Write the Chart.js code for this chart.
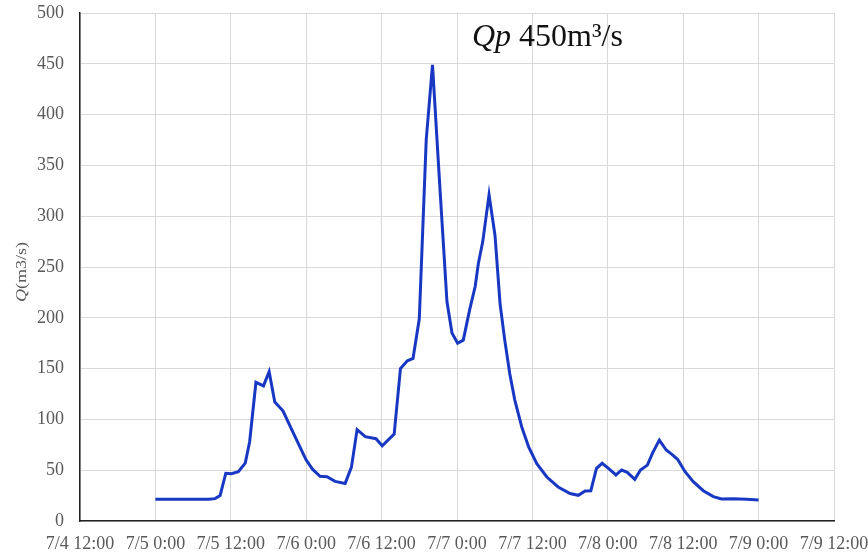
<!DOCTYPE html>
<html>
<head>
<meta charset="utf-8">
<script src="https://cdn.jsdelivr.net/npm/chart.js@4"></script>
<style>
  html, body { margin: 0; padding: 0; background: #ffffff; }
  #wrap { width: 868px; height: 552px; position: relative; }
</style>
</head>
<body>
<div id="wrap"><canvas id="c" width="868" height="552"></canvas></div>
<script>
// Hours elapsed since 7/4 12:00
const hours = [
  12, 20.5, 21.5, 22.3, 23.2, 24.1, 25.2, 26.3, 27, 28,
  29.2, 30.1, 31, 32.3, 34, 35, 36, 37, 38.2, 39.3,
  40.6, 42.2, 43.2, 44.1, 45.4, 47.1, 48.1, 50, 51, 52.1,
  53, 54, 55.1, 56.1, 57.2, 58.4, 59.2, 60.1, 61, 62,
  62.9, 63.4, 64.1, 65.1, 66.05, 66.85, 67.6, 68.4, 69.2, 70.3,
  71.4, 72.7, 74.3, 76.1, 78, 79.3, 80.4, 81.3, 82.2, 83.1,
  84.1, 85.3, 86.2, 87.1, 88.3, 89.2, 90.3, 91.1, 92.2, 93.3,
  94.2, 95.1, 96.3, 97.6, 99.2, 100.8, 102.1, 104, 106.1, 108
];
// Discharge Q (m3/s)
const flow = [
  21.5, 21.5, 22, 25, 47, 46.5, 48.5, 57, 78, 136.5,
  133, 147, 117, 108.5, 86, 73, 60, 51, 44, 43.6,
  39, 37, 53, 90, 83, 81, 74, 85.5, 150, 157.7,
  160, 199, 375, 449, 336, 216, 185, 175, 178, 207.5,
  231, 253.5, 275, 321, 281, 214, 178, 145, 119, 92.6,
  73, 56.5, 43.3, 33.5, 27, 25.3, 29.5, 29.8, 51.8, 56.8,
  51.8, 45.3, 50.2, 47.9, 41, 50.2, 55, 66.6, 79.7, 69.9,
  65.6, 60.7, 48.5, 38.7, 29.8, 24, 21.7, 22, 21.3, 20.7
];
const startMonth = 7, startDay = 4, startHour = 12;
const yTitleItalic = 'Q';
const yTitleRest = '(m3/s)';
const noteItalic = 'Qp';
const noteRest = ' 450m\u00B3/s';

const points = hours.map((h, i) => ({ x: h, y: flow[i] }));

function fmtTime(h) {
  const total = startHour + h;
  const day = startDay + Math.floor(total / 24);
  const hr = ((total % 24) + 24) % 24;
  return startMonth + '/' + day + ' ' + hr + ':00';
}

const textPlugin = {
  id: 'textPlugin',
  afterDraw(chart) {
    const ctx = chart.ctx;
    // Y axis title
    ctx.save();
    ctx.translate(22, 272);
    ctx.rotate(-Math.PI / 2);
    ctx.scale(1.2, 1);
    ctx.fillStyle = '#595959';
    ctx.textBaseline = 'middle';
    ctx.font = 'italic 15px "Liberation Serif"';
    const w1 = ctx.measureText(yTitleItalic).width;
    ctx.font = '15px "Liberation Serif"';
    const w2 = ctx.measureText(yTitleRest).width;
    let x0 = -(w1 + w2) / 2;
    ctx.font = 'italic 15px "Liberation Serif"';
    ctx.fillText(yTitleItalic, x0, 0);
    ctx.font = '15px "Liberation Serif"';
    ctx.fillText(yTitleRest, x0 + w1, 0);
    ctx.restore();
    // Peak annotation
    ctx.save();
    ctx.fillStyle = '#111111';
    ctx.textBaseline = 'alphabetic';
    ctx.font = 'italic 32px "Liberation Serif"';
    const nx = 472, ny = 46;
    ctx.fillText(noteItalic, nx, ny);
    const nw = ctx.measureText(noteItalic).width;
    ctx.font = '32px "Liberation Serif"';
    ctx.fillText(noteRest, nx + nw, ny);
    ctx.restore();
  }
};

new Chart(document.getElementById('c'), {
  type: 'line',
  data: {
    datasets: [{
      data: points,
      borderColor: '#1838c4',
      borderWidth: 3,
      pointRadius: 0,
      tension: 0,
      fill: false
    }]
  },
  options: {
    responsive: false,
    animation: false,
    layout: { padding: { left: 0, right: 34, top: 13, bottom: 0 } },
    plugins: { legend: { display: false }, tooltip: { enabled: false } },
    scales: {
      x: {
        type: 'linear',
        min: 0, max: 120,
        afterFit(scale) {
          scale.height = 31;
          scale.paddingLeft = 0; scale.paddingRight = 0;
          scale.paddingTop = 0; scale.paddingBottom = 0;
        },
        ticks: {
          stepSize: 12,
          color: '#595959',
          font: { family: 'Liberation Serif', size: 18 },
          padding: 12,
          maxRotation: 0,
          autoSkip: false,
          callback: (v) => fmtTime(v)
        },
        grid: { color: '#d9d9d9', lineWidth: 1, drawTicks: false },
        border: { color: '#222222', width: 1.5 }
      },
      y: {
        min: 0, max: 500,
        afterFit(scale) {
          scale.width = 80;
          scale.paddingLeft = 0; scale.paddingRight = 0;
          scale.paddingTop = 0; scale.paddingBottom = 0;
        },
        ticks: {
          stepSize: 50,
          color: '#595959',
          font: { family: 'Liberation Serif', size: 18 },
          padding: 16
        },
        grid: { color: '#d9d9d9', lineWidth: 1, drawTicks: false },
        border: { color: '#222222', width: 1.5 }
      }
    }
  },
  plugins: [textPlugin]
});
</script>
</body>
</html>
